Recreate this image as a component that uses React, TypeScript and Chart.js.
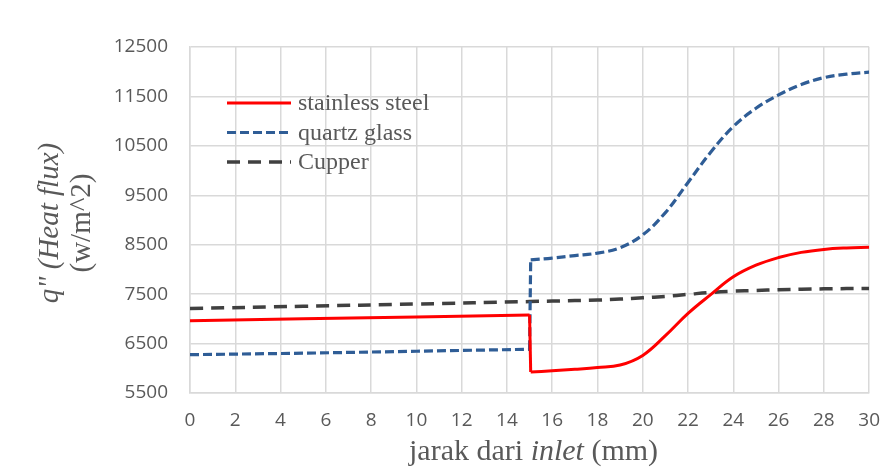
import React, { useEffect, useRef } from "react";
import { Chart, registerables } from "chart.js";

Chart.register(...registerables);

// ---- data ----
// stainless steel: before and after the step at x = 15 mm
const steelBeforeX = [0, 5, 10, 15];
const steelBeforeY = [6960, 7000, 7040, 7080];
const steelAfterX = [15.05, 16, 17, 18, 19, 20, 21, 22, 23, 24, 25, 26, 27, 28, 29, 30];
const steelAfterY = [5925, 5950, 5980, 6015, 6065, 6260, 6660, 7110, 7490, 7850, 8085, 8240, 8345, 8405, 8435, 8450];

// quartz glass
const quartzBeforeX = [0, 5, 10, 15];
const quartzBeforeY = [6275, 6305, 6345, 6385];
const quartzAfterX = [15.05, 16, 17, 18, 19, 20, 21, 22, 23, 24, 25, 26, 27, 28, 29, 30];
const quartzAfterY = [8195, 8230, 8280, 8330, 8440, 8700, 9150, 9760, 10370, 10890, 11260, 11530, 11740, 11880, 11950, 11990];

// Cupper (no step)
const cupperX = [0, 5, 10, 15, 16, 17, 18, 19, 20, 21, 22, 23, 24, 25, 26, 27, 28, 29, 30];
const cupperY = [7210, 7255, 7300, 7350, 7360, 7370, 7380, 7400, 7425, 7455, 7495, 7535, 7560, 7575, 7588, 7598, 7607, 7612, 7615];

const seriesNames = ["stainless steel", "quartz glass", "Cupper"];
const seriesColors = ["#FF0000", "#2F5D96", "#404040"];
const seriesWidths = [3, 3.2, 3.5];
const seriesDash: number[][] = [[], [9, 4], [13, 8]];

const xMin = 0;
const xMax = 30;
const xStep = 2;
const yMin = 5500;
const yMax = 12500;
const yStep = 1000;

const xTitleParts = [
  { text: "jarak dari ", italic: false },
  { text: "inlet", italic: true },
  { text: " (mm)", italic: false },
];
const yTitleLine1 = 'q" (Heat flux)';
const yTitleLine2 = "(w/m^2)";

const TEXT_COLOR = "#595959";
const GRID_COLOR = "#D9D9D9";
const SERIF = '"Liberation Serif", "Times New Roman", serif';
const SANS = '"Open Sans", sans-serif';

const overlayPlugin = {
  id: "overlay",
  afterDraw(chart: any) {
    const ctx = chart.ctx as CanvasRenderingContext2D;
    const ca = chart.chartArea;
    ctx.save();
    ctx.fillStyle = TEXT_COLOR;

    // X axis title (mixed italic)
    const fontFor = (it: boolean) => `${it ? "italic " : ""}30px ${SERIF}`;
    let total = 0;
    const widths = xTitleParts.map((p) => {
      ctx.font = fontFor(p.italic);
      const w = ctx.measureText(p.text).width;
      total += w;
      return w;
    });
    let x = (ca.left + ca.right) / 2 + 4 - total / 2;
    ctx.textBaseline = "alphabetic";
    ctx.textAlign = "left";
    xTitleParts.forEach((p, i) => {
      ctx.font = fontFor(p.italic);
      ctx.fillText(p.text, x, 460);
      x += widths[i];
    });

    // Y axis title (two rotated lines)
    const cy = (ca.top + ca.bottom) / 2 + 3;
    ctx.textAlign = "center";
    ctx.textBaseline = "middle";
    ctx.save();
    ctx.translate(50, cy);
    ctx.rotate(-Math.PI / 2);
    ctx.font = `italic 29px ${SERIF}`;
    ctx.fillText(yTitleLine1, 0, 0);
    ctx.restore();
    ctx.save();
    ctx.translate(82, cy);
    ctx.rotate(-Math.PI / 2);
    ctx.font = `29px ${SERIF}`;
    ctx.fillText(yTitleLine2, 0, 0);
    ctx.restore();

    // Legend inside plot
    const lx0 = ca.left + 37;
    const lx1 = ca.left + 101;
    const rows = [ca.top + 56, ca.top + 85.5, ca.top + 115];
    ctx.textAlign = "left";
    ctx.textBaseline = "middle";
    ctx.font = `24px ${SERIF}`;
    seriesNames.forEach((name, i) => {
      ctx.save();
      ctx.strokeStyle = seriesColors[i];
      ctx.lineWidth = seriesWidths[i];
      ctx.setLineDash(seriesDash[i]);
      ctx.beginPath();
      ctx.moveTo(lx0, rows[i]);
      ctx.lineTo(lx1, rows[i]);
      ctx.stroke();
      ctx.restore();
      ctx.fillStyle = TEXT_COLOR;
      ctx.fillText(name, lx1 + 7, rows[i] + 1);
    });
    ctx.restore();
  },
};

const toPoints = (xs: number[], ys: number[]) => xs.map((xv, j) => ({ x: xv, y: ys[j] }));

function lineDataset(i: number, data: { x: number; y: number }[], tension: number) {
  return {
    label: seriesNames[i],
    data,
    borderColor: seriesColors[i],
    backgroundColor: seriesColors[i],
    borderWidth: seriesWidths[i],
    borderDash: seriesDash[i],
    pointRadius: 0,
    fill: false,
    tension,
  };
}

export default function App() {
  const ref = useRef<HTMLCanvasElement | null>(null);

  useEffect(() => {
    const canvas = ref.current;
    if (!canvas) return;

    const steelBefore = toPoints(steelBeforeX, steelBeforeY);
    const steelAfter = toPoints(steelAfterX, steelAfterY);
    const quartzBefore = toPoints(quartzBeforeX, quartzBeforeY);
    const quartzAfter = toPoints(quartzAfterX, quartzAfterY);

    const datasets = [
      lineDataset(0, steelBefore, 0),
      lineDataset(0, [steelBefore[steelBefore.length - 1], steelAfter[0]], 0),
      lineDataset(0, steelAfter, 0.4),
      lineDataset(1, quartzBefore, 0),
      lineDataset(1, [quartzBefore[quartzBefore.length - 1], quartzAfter[0]], 0),
      lineDataset(1, quartzAfter, 0.4),
      lineDataset(2, toPoints(cupperX, cupperY), 0.4),
    ];

    const chart = new Chart(canvas, {
      type: "line",
      data: { datasets },
      options: {
        animation: false,
        responsive: false,
        devicePixelRatio: 1,
        layout: { padding: { top: 47, right: 21, left: 0, bottom: 0 } },
        plugins: {
          legend: { display: false },
          tooltip: { enabled: false },
        },
        scales: {
          x: {
            type: "linear",
            min: xMin,
            max: xMax,
            ticks: {
              stepSize: xStep,
              padding: 16,
              color: TEXT_COLOR,
              font: { family: SANS, size: 19 },
              maxRotation: 0,
              callback: (v: any) => String(v),
            },
            grid: { color: GRID_COLOR, lineWidth: 1.5, drawTicks: false },
            border: { display: true, color: GRID_COLOR, width: 1.5 },
            afterFit: (s: any) => {
              s.height = 77;
            },
          },
          y: {
            type: "linear",
            min: yMin,
            max: yMax,
            ticks: {
              stepSize: yStep,
              padding: 22,
              color: TEXT_COLOR,
              font: { family: SANS, size: 19 },
              callback: (v: any) => String(v),
            },
            grid: { color: GRID_COLOR, lineWidth: 1.5, drawTicks: false },
            border: { display: true, color: GRID_COLOR, width: 1.5 },
            afterFit: (s: any) => {
              s.width = 190;
            },
          },
        },
      },
      plugins: [overlayPlugin],
    });
    return () => chart.destroy();
  }, []);

  return (
    <div style={{ position: "fixed", left: 0, top: 0, width: 896, height: 470, background: "#ffffff" }}>
      <canvas ref={ref} width={896} height={470} style={{ display: "block", width: 896, height: 470 }} />
    </div>
  );
}
